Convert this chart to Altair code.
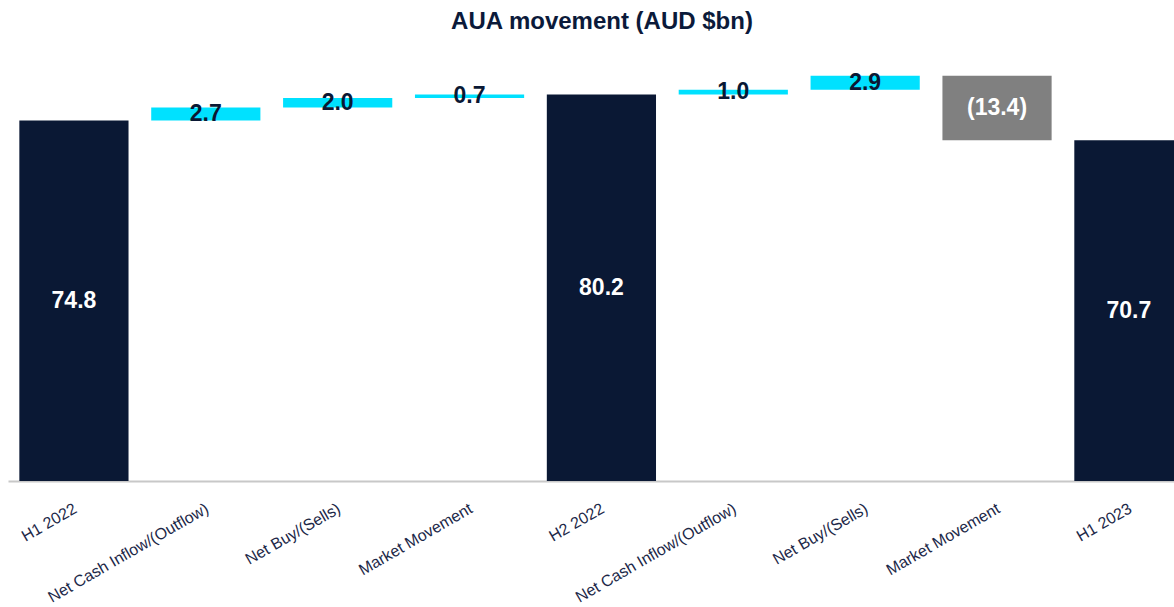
import json
import altair as alt
import pandas as pd

categories = ["H1 2022", "Net Cash Inflow/(Outflow)", "Net Buy/(Sells)", "Market Movement",
              "H2 2022", "Net Cash Inflow/(Outflow)", "Net Buy/(Sells)", "Market Movement", "H1 2023"]
values = [74.8, 2.7, 2.0, 0.7, 80.2, 1.0, 2.9, -13.4, 70.7]
kinds = ["total", "delta", "delta", "delta", "total", "delta", "delta", "delta", "total"]

NAVY = "#0A1834"
CYAN = "#00E1FF"
GREY = "#808080"
FONT = "Liberation Sans"

rows = []
running = 0.0
for i, (c, v, k) in enumerate(zip(categories, values, kinds)):
    if k == "total":
        start, end = 0.0, v
        running = v
        fill, tcol = NAVY, "white"
    else:
        start, end = running, running + v
        running = end
        fill, tcol = (CYAN, NAVY) if v >= 0 else (GREY, "white")
    label = f"{v:.1f}" if v >= 0 else f"({abs(v):.1f})"
    rows.append(dict(idx=i, cat=c, start=start, end=end, mid=(start + end) / 2,
                     fill=fill, tcol=tcol, label=label))
df = pd.DataFrame(rows)

label_expr = json.dumps(categories) + "[datum.value]"

xscale = alt.Scale(domain=[-0.5, 8.342], nice=False, zero=False)
yscale = alt.Scale(domain=[0, 88], nice=False, zero=True)

base = alt.Chart(df).transform_calculate(
    lo="datum.idx - 0.414", hi="datum.idx + 0.414"
)

bars = base.mark_bar(clip=True).encode(
    x=alt.X("lo:Q", scale=xscale,
            axis=alt.Axis(values=list(range(len(categories))), labelExpr=label_expr,
                          title=None, grid=False, ticks=False, domain=True,
                          domainColor="#C8C8C8", domainWidth=2,
                          labelAngle=-30, labelAlign="right", labelBaseline="top",
                          labelPadding=19, labelOffset=-3, labelFontSize=16, labelFont=FONT,
                          labelColor="#1C2848", labelFlush=False, labelBound=False,
                          labelOverlap=False, labelLimit=0)),
    x2="hi:Q",
    y=alt.Y("start:Q", scale=yscale, axis=None),
    y2="end:Q",
    color=alt.Color("fill:N", scale=None),
)

texts = base.mark_text(fontSize=23, fontWeight="bold", font=FONT, align="center",
                       baseline="middle", clip=True).encode(
    x=alt.X("idx:Q", scale=xscale),
    y=alt.Y("mid:Q", scale=yscale),
    text="label:N",
    color=alt.Color("tcol:N", scale=None),
)

chart = alt.layer(bars, texts).properties(
    width=1166, height=424,
    title=alt.TitleParams("AUA movement (AUD $bn)", fontSize=24, fontWeight="bold",
                          font=FONT, color="#0B1A3A", anchor="middle", dx=11, offset=23),
    autosize=alt.AutoSizeParams(type="none"),
    padding={"left": 8, "top": 57, "right": 0, "bottom": 126},
).configure(background="white").configure_view(stroke=None, strokeWidth=0)

chart.save("out.html", embed_options={"renderer": "svg", "actions": False})
